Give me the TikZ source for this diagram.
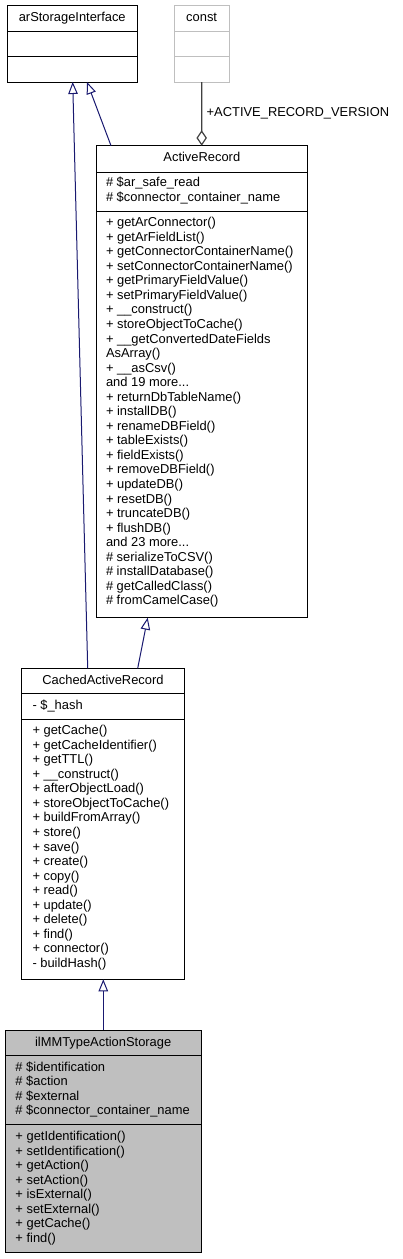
\documentclass[tikz,border=0pt]{standalone}
\usepackage{fontspec}
\setmainfont{Liberation Sans}
\usetikzlibrary{arrows.meta,calc}
\definecolor{edgeblue}{HTML}{191970}
\definecolor{aggray}{HTML}{404040}
\definecolor{constgray}{HTML}{BFBFBF}
\definecolor{curfill}{HTML}{BFBFBF}
\newcommand{\mydots}{...}
\begin{document}
\begin{tikzpicture}[x=1pt,y=-1pt,
  txt/.style={inner sep=0pt,outer sep=0pt,font=\fontsize{12.9}{14.55}\selectfont},
  mem/.style={txt,anchor=base west},
  ttl/.style={txt,anchor=base},
  clsbox/.style={draw=black,line width=1pt,rectangle,inner sep=0pt,outer sep=0pt,anchor=north west},
  divline/.style={draw=black,line width=1pt},
  inherit/.style={draw=edgeblue,line width=1pt,-{Triangle[open,length=12pt,width=9.5pt,fill=white]}},
  aggr/.style={draw=aggray,line width=1.2pt,-{Diamond[open,length=15.5pt,width=10.5pt,fill=white]}}
]
\useasboundingbox (0,0) rectangle (403,1259);
\fill[white] (0,0) rectangle (403,1259);

% ---------- arStorageInterface ----------
\node[clsbox,minimum width=129.5pt,minimum height=76.3pt] (asi) at (7.5,5.7) {};
\draw[divline] (7.5,31.3) -- (137,31.3);
\draw[divline] (7.5,56.7) -- (137,56.7);
\node[ttl] (asi-t) at (72.25,21.7) {arStorageInterface};

% ---------- const ----------
\node[clsbox,draw=constgray,minimum width=54.7pt,minimum height=76.3pt] (cst) at (174.3,5.7) {};
\draw[divline,draw=constgray] (174.3,31.3) -- (229,31.3);
\draw[divline,draw=constgray] (174.3,56.7) -- (229,56.7);
\node[ttl] (cst-t) at (201.65,21.7) {const};

% ---------- ActiveRecord ----------
\node[clsbox,minimum width=210.3pt,minimum height=472pt] (ar) at (96.7,145.7) {};
\draw[divline] (96.7,172) -- (307,172);
\draw[divline] (96.7,211.3) -- (307,211.3);
\node[ttl] (ar-t) at (201.85,161.7) {ActiveRecord};
\foreach \t [count=\i from 0] in {\# \$ar\_safe\_read,\# \$connector\_container\_name}
  \node[mem] (ar-a\i) at (106,{186.7+\i*14.55}) {\t};
\foreach \t [count=\i from 0] in {
  + getArConnector(),+ getArFieldList(),+ getConnectorContainerName(),
  + setConnectorContainerName(),+ getPrimaryFieldValue(),+ setPrimaryFieldValue(),
  + \_\_construct(),+ storeObjectToCache(),+ \_\_getConvertedDateFields,AsArray(),
  + \_\_asCsv(),{and 19 more\mydots},+ returnDbTableName(),+ installDB(),+ renameDBField(),
  + tableExists(),+ fieldExists(),+ removeDBField(),+ updateDB(),+ resetDB(),
  + truncateDB(),+ flushDB(),{and 23 more\mydots},\# serializeToCSV(),\# installDatabase(),
  \# getCalledClass(),\# fromCamelCase()}
  \node[mem] (ar-m\i) at (106,{226.6+\i*14.55}) {\t};

% ---------- CachedActiveRecord ----------
\node[clsbox,minimum width=162.6pt,minimum height=311pt] (car) at (21.7,668.3) {};
\draw[divline] (21.7,693.7) -- (184.3,693.7);
\draw[divline] (21.7,719) -- (184.3,719);
\node[ttl] (car-t) at (103,684.3) {CachedActiveRecord};
\node[mem] (car-a0) at (32.5,709.3) {- \$\_hash};
\foreach \t [count=\i from 0] in {
  + getCache(),+ getCacheIdentifier(),+ getTTL(),+ \_\_construct(),+ afterObjectLoad(),
  + storeObjectToCache(),+ buildFromArray(),+ store(),+ save(),+ create(),+ copy(),
  + read(),+ update(),+ delete(),+ find(),+ connector(),- buildHash()}
  \node[mem] (car-m\i) at (32.5,{734.6+\i*14.55}) {\t};

% ---------- ilMMTypeActionStorage ----------
\node[clsbox,fill=curfill,minimum width=196.3pt,minimum height=222.7pt] (il) at (5,1030) {};
\draw[divline] (5,1055.3) -- (201.3,1055.3);
\draw[divline] (5,1124.3) -- (201.3,1124.3);
\node[ttl] (il-t) at (103.15,1046) {ilMMTypeActionStorage};
\foreach \t [count=\i from 0] in {\# \$identification,\# \$action,\# \$external,\# \$connector\_container\_name}
  \node[mem] (il-a\i) at (15.5,{1071+\i*14.6}) {\t};
\foreach \t [count=\i from 0] in {
  + getIdentification(),+ setIdentification(),+ getAction(),+ setAction(),
  + isExternal(),+ setExternal(),+ getCache(),+ find()}
  \node[mem] (il-m\i) at (15.5,{1140.8+\i*14.5}) {\t};

% ---------- connectors ----------
\draw[inherit] ($(ar.north west)+(14.3,0)$) -- ($(asi.south west)+(79.5,0)$);
\draw[inherit] ($(car.north west)+(66,0)$) -- ($(asi.south west)+(65.2,0)$);
\draw[aggr] (cst.south) -- ($(ar.north west)+(105,0)$);
\node[txt,anchor=base west] (aggr-l) at (206.7,116.7) {+ACTIVE\_RECORD\_VERSION};
\draw[inherit] ($(car.north west)+(116,0)$) -- ($(ar.south west)+(51,0)$);
\draw[inherit] ($(il.north west)+(98.3,0)$) -- ($(car.south west)+(81.6,0)$);
\end{tikzpicture}
\end{document}
